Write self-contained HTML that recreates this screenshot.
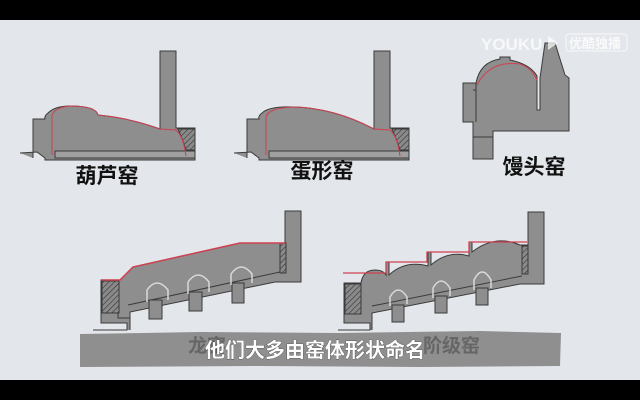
<!DOCTYPE html>
<html><head><meta charset="utf-8"><style>
html,body{margin:0;padding:0;width:640px;height:400px;overflow:hidden;background:#000}
svg{display:block}
text{font-family:"Liberation Sans","Noto Sans CJK SC",sans-serif;font-weight:bold}
</style></head><body>
<svg width="640" height="400" viewBox="0 0 640 400" xmlns="http://www.w3.org/2000/svg">
<defs>
<pattern id="h" width="4" height="4" patternUnits="userSpaceOnUse" patternTransform="rotate(45)">
<rect width="4" height="4" fill="#8a8a8a"/><line x1="0" y1="0" x2="0" y2="4" stroke="#333" stroke-width="1.2"/></pattern>
</defs>
<rect x="0" y="20" width="640" height="360" fill="#e3e6eb"/>
<g fill="#8e8e8e" stroke="#3a3a3a" stroke-width="1">
<!-- kiln 1 -->
<path d="M20,153 L37,152 L45,158 L45,160 L195,160 L195,128 L176,128 L176,51 L160,51 L160,129 Q130,118 98,115 Q96,106 70,106 Q55,106 48,113 Q44,116 45,119 L33,119 L33,158"/>
<rect x="55" y="151" width="140" height="7" fill="#a0a0a0"/>
<path d="M178,129 L195,129 L195,150 L186,150 Q182,138 178,129Z" fill="url(#h)"/>
<path d="M52,155 L52,120 Q50,108 70,106 Q96,106 98,115 Q130,118 160,129 L176,130 Q182,135 185,150 L186,156" fill="none" stroke="#d04050" stroke-width="1"/>
<!-- kiln 2 -->
<g transform="translate(214,0)">
<path d="M20,153 L37,152 L45,158 L45,160 L195,160 L195,128 L176,128 L176,51 L160,51 L160,129 Q120,108 80,107 Q55,106 48,113 Q44,116 45,119 L33,119 L33,158"/>
<rect x="55" y="151" width="140" height="7" fill="#a0a0a0"/>
<path d="M178,129 L195,129 L195,150 L186,150 Q182,138 178,129Z" fill="url(#h)"/>
<path d="M52,155 L52,120 Q50,108 80,107 Q120,108 160,129 L176,130 Q182,135 185,150 L186,156" fill="none" stroke="#d04050"/>
</g>
<!-- kiln 3 -->
<path d="M463,83 L476,83 Q480,62 500,59 L500,57 L510,57 L510,60 Q530,64 537,76 L537,110 L540,110 L540,78 L545,43 L555,43 L565,75 L569,78 L569,131 L493,131 L493,159 L473,159 L473,122 L463,122 Z"/>
<line x1="473" y1="90" x2="476" y2="90"/><line x1="473" y1="137" x2="493" y2="137"/>
<line x1="476" y1="83" x2="476" y2="122"/>
<path d="M477,85 Q490,60 520,64 Q532,68 537,80" fill="none" stroke="#d04050"/>
<!-- dragon kiln -->
<path d="M93,330 L127,330 L127,323 L101,323 L101,280 L120,280 L133,267 L240,243 L285,243 L285,211 L301,211 L301,282 L275,282 L130,312 L130,330"/>
<rect x="102" y="281" width="17" height="32" fill="url(#h)"/>
<rect x="280" y="243" width="6" height="30" fill="url(#h)"/>
<path d="M118,313 L118,318 L130,318 M128,305 L280,272" fill="none"/>
<g fill="#8e8e8e">
<rect x="149" y="300" width="13" height="19"/><rect x="189" y="292" width="13" height="19"/><rect x="232" y="283" width="12" height="20"/>
</g>
<g fill="none" stroke="#d8d8d8" stroke-width="1.5">
<path d="M147,302 L147,290 Q157,276 168,290 L168,300"/><path d="M188,294 L188,282 Q198,268 209,282 L209,292"/><path d="M231,285 L231,274 Q241,260 252,274 L252,283"/>
</g>
<path d="M101,280 L120,280 L133,267 L240,243 L285,243" fill="none" stroke="#d04050" stroke-width="1.5"/>
<!-- stair kiln -->
<path d="M338,330 L370,330 L370,323 L344,323 L344,283 L361,283 Q363,270 375,270 Q383,270 386,275 L386,262 L389,262 L389,275 Q405,260 428,266 L428,252 L431,252 L431,265 Q448,250 469,256 L469,242 L472,242 L472,252 Q495,234 520,245 L528,245 L528,212 L544,212 L544,284 L520,284 L372,313 L372,330"/>
<rect x="345" y="284" width="16" height="30" fill="url(#h)"/>
<rect x="522" y="246" width="6" height="28" fill="url(#h)"/>
<line x1="372" y1="306" x2="522" y2="276"/>
<g fill="#8e8e8e">
<rect x="392" y="305" width="12" height="17"/><rect x="435" y="296" width="12" height="17"/><rect x="476" y="288" width="12" height="17"/>
</g>
<g fill="none" stroke="#d8d8d8" stroke-width="1.5">
<path d="M390,306 L390,297 Q398,283 407,297 L407,304"/><path d="M433,298 L433,288 Q441,274 450,288 L450,296"/><path d="M474,290 L474,280 Q482,264 491,280 L491,288"/>
</g>
<path d="M343,273 L386,273 L386,262 L427,262 L427,252 L469,252 L469,242 L527,242" fill="none" stroke="#d04050" stroke-width="1.3"/>
</g>
<!-- subtitle band -->
<path d="M80,334 L200,332 L340,333 L480,331 L561,333 L560,366 L420,367 L260,366 L80,367 Z" fill="#8f8f8f"/>
<text x="188" y="352" font-size="19" fill="#666">龙窑</text>
<text x="423" y="352" font-size="19" fill="#666">阶级窑</text>
<text x="315" y="357" font-size="20" fill="#fff" text-anchor="middle" stroke="#333" stroke-width="0.6" paint-order="stroke">他们大多由窑体形状命名</text>
<!-- labels -->
<text x="107" y="183" font-size="21" fill="#111" text-anchor="middle">葫芦窑</text>
<text x="322" y="178" font-size="21" fill="#111" text-anchor="middle">蛋形窑</text>
<text x="534" y="174" font-size="21" fill="#111" text-anchor="middle">馒头窑</text>
<!-- logo -->
<text x="481" y="50" font-size="17" fill="#fff" fill-opacity="0.7">YOUKU</text>
<path d="M548,36 L558,43 L548,50 Z" fill="#fff" fill-opacity="0.7"/>
<rect x="566" y="34" width="61" height="17" rx="3" fill="none" stroke="#fff" stroke-opacity="0.7"/>
<text x="569" y="48" font-size="13" fill="#fff" fill-opacity="0.8">优酷独播</text>
</svg>
</body></html>
